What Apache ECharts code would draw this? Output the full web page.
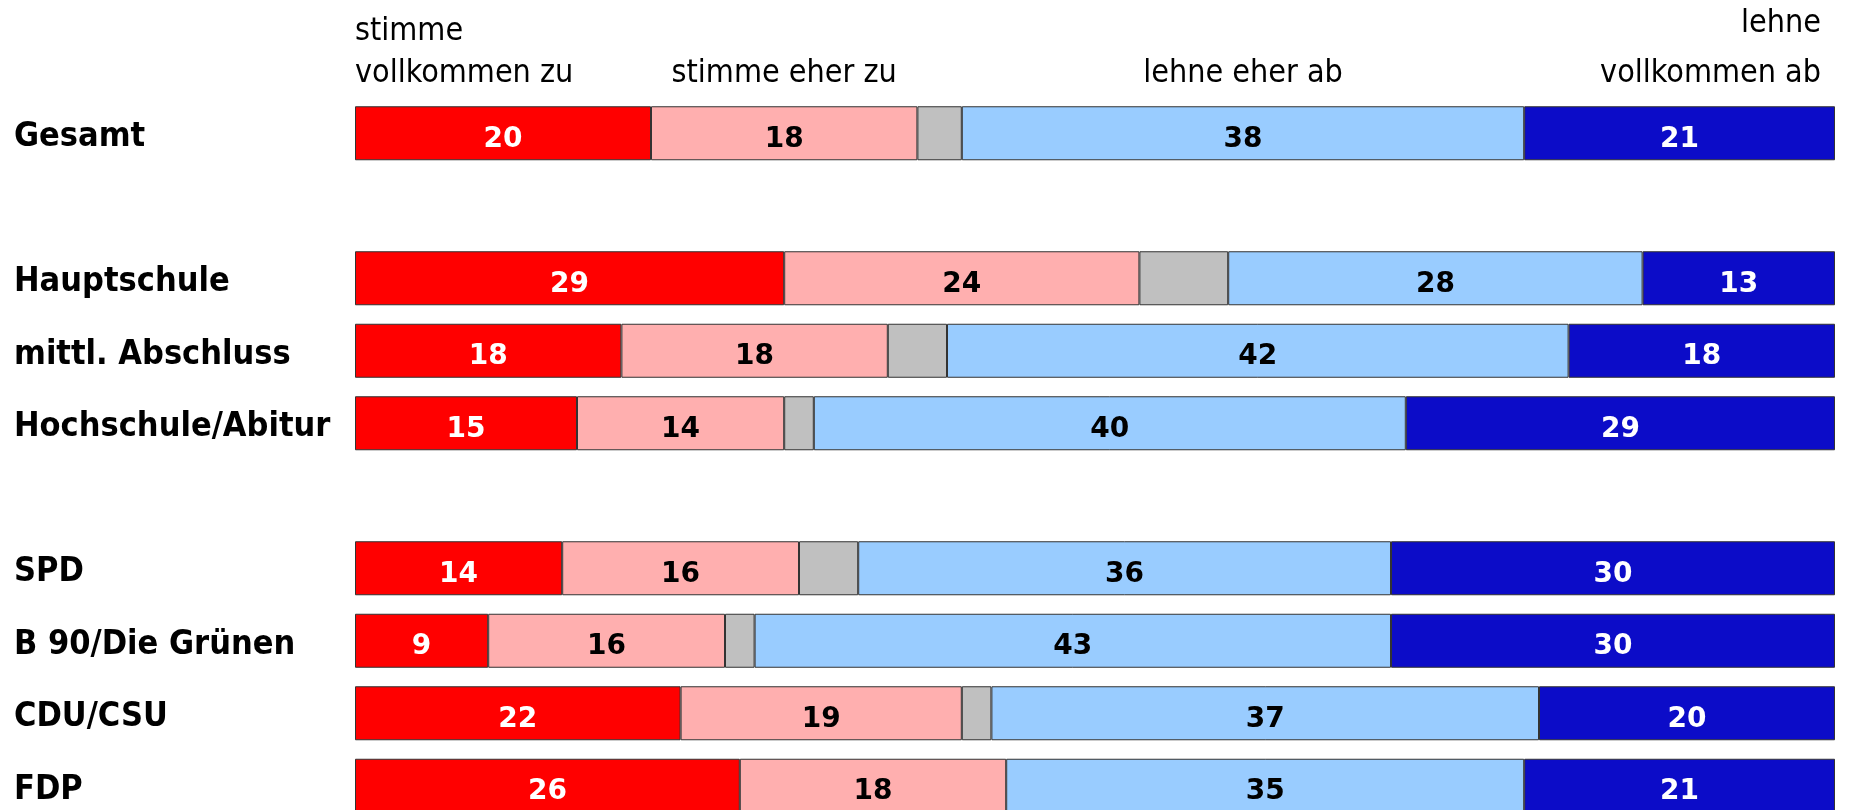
<!DOCTYPE html>
<html>
<head>
<meta charset="utf-8">
<script src="https://cdn.jsdelivr.net/npm/echarts@6/dist/echarts.min.js"></script>
<style>
  html, body { margin: 0; padding: 0; background: #fff; }
  #chart { width: 1858px; height: 810px; }
</style>
</head>
<body>
<div id="chart"></div>
<script>
// ---- data ----
const categories = ['Gesamt', ' ', 'Hauptschule', 'mittl. Abschluss', 'Hochschule/Abitur', '  ', 'SPD', 'B 90/Die Grünen', 'CDU/CSU', 'FDP'];
const seriesNames = ['stimme vollkommen zu', 'stimme eher zu', 'weiß nicht', 'lehne eher ab', 'lehne vollkommen ab'];
const headerLine1 = ['stimme', '', '', '', 'lehne'];
const headerLine2 = ['vollkommen zu', 'stimme eher zu', '', 'lehne eher ab', 'vollkommen ab'];
const stimmeVollkommen = [20, null, 29, 18, 15, null, 14, 9, 22, 26];
const stimmeEher      = [18, null, 24, 18, 14, null, 16, 16, 19, 18];
const weissNicht      = [3, null, 6, 4, 2, null, 4, 2, 2, null];
const lehneEher       = [38, null, 28, 42, 40, null, 36, 43, 37, 35];
const lehneVollkommen = [21, null, 13, 18, 29, null, 30, 30, 20, 21];

const values = [stimmeVollkommen, stimmeEher, weissNicht, lehneEher, lehneVollkommen];
const colors = ['#ff0000', '#ffafaf', '#c0c0c0', '#99ccff', '#0c0cc8'];
const labelColors = ['#ffffff', '#000000', null, '#000000', '#ffffff'];
const FONT = '"DejaVu Sans Condensed", "Liberation Sans Narrow", "DejaVu Sans", sans-serif';
const NUMFONT = '"DejaVu Sans", sans-serif';

const chart = echarts.init(document.getElementById('chart'), null, { renderer: 'canvas' });

const series = values.map((arr, i) => ({
  name: seriesNames[i],
  type: 'bar',
  stack: 'total',
  barWidth: 54,
  data: arr,
  itemStyle: { color: colors[i], borderColor: '#333', borderWidth: 1 },
  label: {
    show: labelColors[i] !== null,
    position: 'inside',
    offset: [0, 6],
    color: labelColors[i] || '#000',
    fontFamily: NUMFONT,
    fontSize: 28,
    fontWeight: 'bold',
    formatter: '{c}'
  },
  emphasis: { disabled: true }
}));

const option = {
  animation: false,
  backgroundColor: '#ffffff',
  grid: { left: 355, right: 23, top: 97, height: 725, outerBoundsMode: 'none' },
  xAxis: { type: 'value', min: 0, max: 100, show: false },
  yAxis: {
    type: 'category',
    inverse: true,
    data: categories,
    axisLine: { show: false },
    axisTick: { show: false },
    axisLabel: {
      align: 'left',
      margin: 341,
      formatter: function (v) { return '{c|' + v + '}'; },
      rich: {
        c: {
          padding: [8, 0, 0, 0],
          color: '#000',
          fontFamily: FONT,
          fontSize: 34,
          fontWeight: 'bold'
        }
      }
    }
  },
  series: series
};
chart.setOption(option);

// header labels centred above the "Gesamt" segments
const g = stimmeVollkommen[0], e = stimmeEher[0], w = weissNicht[0], le = lehneEher[0];
const x0 = chart.convertToPixel({ xAxisIndex: 0 }, 0);
const x100 = chart.convertToPixel({ xAxisIndex: 0 }, 100);
const cEher = chart.convertToPixel({ xAxisIndex: 0 }, g + e / 2);
const cLehne = chart.convertToPixel({ xAxisIndex: 0 }, g + e + w + le / 2);
function hText(text, x, y, align) {
  return { type: 'text', x: x, y: y, style: { text: text, fill: '#000', fontFamily: FONT, fontSize: 32, align: align, verticalAlign: 'middle' } };
}
chart.setOption({
  graphic: [
    hText(headerLine1[0], x0, 32, 'left'),
    hText(headerLine2[0], x0, 74, 'left'),
    hText(headerLine2[1], cEher, 74, 'center'),
    hText(headerLine2[3], cLehne, 74, 'center'),
    hText(headerLine1[4], x100 - 14, 24, 'right'),
    hText(headerLine2[4], x100 - 14, 74, 'right')
  ]
});
</script>
</body>
</html>
